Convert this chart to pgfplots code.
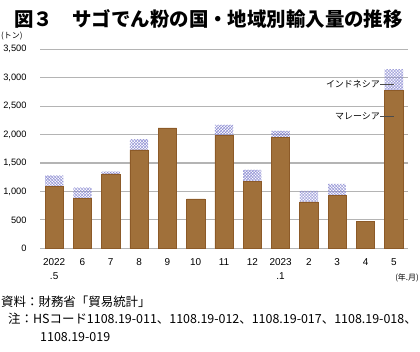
\documentclass[border=0pt]{standalone}
\usepackage{pgfplots}
\pgfplotsset{compat=1.18}
\usepackage{fontspec}
\setmainfont{Liberation Sans}
\newfontfamily\jp{Noto Sans CJK JP}
\usetikzlibrary{patterns}
\definecolor{malay}{RGB}{160,112,58}
\definecolor{malayedge}{RGB}{140,90,40}
\definecolor{indo}{RGB}{140,140,210}
\definecolor{gridc}{RGB}{180,180,180}
\begin{document}
\begin{tikzpicture}
\path[use as bounding box] (0bp,0bp) rectangle (420bp,352bp);
\node[anchor=west,font=\jp\bfseries\fontsize{19.5}{20}\selectfont,inner sep=0] at (14bp,333bp) {図３\hspace{1em}サゴでん粉の国・地域別輸入量の推移};
\node[anchor=west,font=\jp\fontsize{8}{8}\selectfont,inner sep=0] at (1bp,316bp) {(トン)};
\begin{axis}[
  at={(40bp,103.7bp)}, anchor=south west,
  scale only axis, width=368bp, height=199bp,
  xmin=-0.5, xmax=12.5, ymin=0, ymax=3500,
  ybar stacked, bar width=18.3bp,
  xtick=data,
  xticklabels={{2022\\.5},6,7,8,9,10,11,12,{2023\\.1},2,3,4,5},
  xticklabel style={align=center,font=\fontsize{10}{14}\selectfont},
  x tick label style={yshift=-7bp},
  ytick={0,500,...,3500},
  yticklabel style={font=\fontsize{9.3}{10}\selectfont, xshift=-10bp},
  /pgf/number format/assume math mode=true,
  /pgf/number format/1000 sep={,},
  ymajorgrids=true, major grid style={draw=gridc, line width=1.1bp},
  axis line style={draw=none},
  major tick length=0pt,
  tick style={draw=none},
  clip=false,
]
\addplot+[fill=malay, draw=malayedge, line width=0.6bp] coordinates {
(0,1084) (1,880) (2,1308) (3,1730) (4,2117) (5,868) (6,1989) (7,1172) (8,1954) (9,815) (10,926) (11,468) (12,2781)};
\addplot+[draw=none, pattern=crosshatch, pattern color=indo] coordinates {
(0,194) (1,187) (2,40) (3,188) (4,0) (5,0) (6,181) (7,206) (8,111) (9,193) (10,206) (11,0) (12,369)};
\end{axis}
\node[anchor=east,font=\jp\fontsize{9}{9}\selectfont,inner sep=0] at (380bp,268bp) {インドネシア};
\draw[black!70, line width=0.6bp] (380bp,268bp) -- (394bp,268bp);
\node[anchor=east,font=\jp\fontsize{9}{9}\selectfont,inner sep=0] at (380bp,236bp) {マレーシア};
\draw[black!70, line width=0.6bp] (380bp,236bp) -- (394bp,236bp);
\node[anchor=east,font=\jp\fontsize{8}{8}\selectfont,inner sep=0] at (419bp,74bp) {(年.月)};
\node[anchor=west,font=\jp\fontsize{12.5}{13}\selectfont,inner sep=0] at (1bp,50bp) {資料：財務省「貿易統計」};
\node[anchor=west,font=\jp\fontsize{12.5}{13}\selectfont,inner sep=0] at (8bp,33bp) {注：HSコード1108.19-011、1108.19-012、1108.19-017、1108.19-018、};
\node[anchor=west,font=\jp\fontsize{12.5}{13}\selectfont,inner sep=0] at (40bp,15bp) {1108.19-019};
\end{tikzpicture}
\end{document}
